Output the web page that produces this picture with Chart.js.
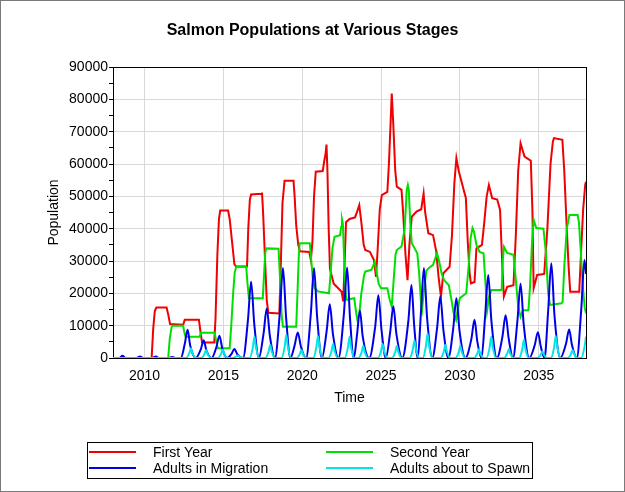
<!DOCTYPE html>
<html>
<head>
<meta charset="utf-8">
<title>Salmon Populations at Various Stages</title>
<script src="https://cdn.jsdelivr.net/npm/chart.js@4.4.1/dist/chart.umd.min.js"></script>
<style>
  html, body { margin: 0; padding: 0; background: #fff; }
  canvas { display: block; }
</style>
</head>
<body>
<canvas id="salmonChart" width="625" height="492"></canvas>
<script>
const FONT = "'Liberation Sans', Arial, sans-serif";
const chartTitle = 'Salmon Populations at Various Stages';

// axis ticks
const yearTicks = [2010, 2015, 2020, 2025, 2030, 2035];
const populationTicks = [0, 5000, 10000, 15000, 20000, 25000, 30000, 35000, 40000, 45000,
  50000, 55000, 60000, 65000, 70000, 75000, 80000, 85000, 90000];

const seriesNames = ['First Year', 'Second Year', 'Adults in Migration', 'Adults about to Spawn'];
const seriesColors = ['#f00000', '#00e000', '#0000e6', '#00e6e6'];

// [year, population]
const firstYear = [
  [2008, 0], [2010.45, 0], [2010.55, 9000], [2010.65, 14500], [2010.75, 15600], [2011.4, 15600],
  [2011.5, 13500], [2011.62, 10500], [2012.45, 10300], [2012.55, 11800], [2013.45, 11800], [2013.55, 8000],
  [2013.65, 4800], [2014.42, 4800], [2014.5, 12000], [2014.62, 32000], [2014.72, 43000], [2014.8, 45600],
  [2015.3, 45600], [2015.4, 43000], [2015.55, 36000], [2015.7, 29000], [2015.8, 28300], [2016.5, 28300],
  [2016.58, 40000], [2016.68, 49000], [2016.76, 50600], [2017.4, 50800], [2017.45, 51200], [2017.52, 45000],
  [2017.62, 33000], [2017.75, 18000], [2017.85, 14000], [2018.55, 13800], [2018.65, 30000], [2018.75, 48000],
  [2018.88, 54800], [2019.45, 54800], [2019.52, 50000], [2019.62, 41000], [2019.75, 35000], [2019.85, 33000],
  [2020.45, 32800], [2020.55, 30300], [2020.65, 36000], [2020.75, 50000], [2020.86, 57600], [2021.3, 57800],
  [2021.4, 61000], [2021.48, 63000], [2021.54, 66000], [2021.6, 58000], [2021.68, 40000], [2021.76, 27500],
  [2022.0, 23000], [2022.3, 21500], [2022.5, 20500], [2022.6, 17500], [2022.68, 28000], [2022.78, 42000],
  [2023.0, 43000], [2023.35, 43500], [2023.5, 45500], [2023.62, 47300], [2023.75, 42000], [2023.9, 35000],
  [2024.0, 33400], [2024.3, 32800], [2024.55, 30300], [2024.68, 25100], [2024.78, 33000], [2024.92, 46000],
  [2025.05, 50400], [2025.4, 51400], [2025.5, 60000], [2025.6, 72000], [2025.68, 81800], [2025.78, 72000],
  [2025.9, 58000], [2026.0, 53000], [2026.3, 52000], [2026.4, 45000], [2026.55, 32000], [2026.68, 24100],
  [2026.8, 35000], [2026.95, 43700], [2027.25, 45300], [2027.55, 46000], [2027.7, 50900], [2027.8, 45000],
  [2028.0, 38600], [2028.3, 38000], [2028.5, 33000], [2028.65, 25000], [2028.8, 19000], [2028.95, 26200],
  [2029.35, 28200], [2029.5, 38000], [2029.65, 54000], [2029.78, 61800], [2029.92, 58000], [2030.24, 52000],
  [2030.38, 49500], [2030.5, 36000], [2030.62, 26200], [2030.7, 23100], [2030.93, 23500], [2031.05, 33900],
  [2031.4, 35000], [2031.55, 42000], [2031.7, 50000], [2031.84, 53500], [2032.05, 49400], [2032.37, 49000],
  [2032.55, 45800], [2032.68, 30000], [2032.79, 19000], [2033.0, 22000], [2033.4, 22500], [2033.55, 38000],
  [2033.7, 58000], [2033.85, 66400], [2034.1, 62300], [2034.5, 61000], [2034.6, 45800], [2034.68, 21600],
  [2034.9, 25700], [2035.35, 26000], [2035.55, 40000], [2035.75, 60000], [2035.9, 67000], [2035.97, 68000],
  [2036.5, 67500], [2036.62, 58000], [2036.78, 40000], [2036.9, 28000], [2037.0, 20500], [2037.57, 20500],
  [2037.68, 32000], [2037.82, 46000], [2037.95, 53500], [2038, 54500]
];

const secondYear = [
  [2008, 0], [2011.5, 0], [2011.6, 6000], [2011.72, 9600], [2011.78, 10000], [2012.45, 10000], [2012.52, 8000],
  [2012.6, 6600], [2013.5, 6600], [2013.58, 7800], [2014.45, 7800], [2014.55, 5000], [2014.65, 3000],
  [2015.4, 3000], [2015.5, 10000], [2015.62, 20000], [2015.72, 26500], [2015.82, 28200], [2016.45, 28200],
  [2016.53, 23000], [2016.62, 18500], [2017.5, 18500], [2017.58, 26000], [2017.66, 32500], [2017.72, 33900],
  [2018.5, 33800], [2018.6, 24000], [2018.7, 13000], [2018.78, 9700], [2019.62, 9700], [2019.7, 20000],
  [2019.78, 31000], [2019.84, 35500], [2020.48, 35500], [2020.58, 30000], [2020.68, 24000], [2020.8, 21600],
  [2021.0, 20600], [2021.7, 20000], [2021.8, 26000], [2021.92, 34000], [2022.05, 37500], [2022.4, 38000],
  [2022.47, 40500], [2022.52, 42900], [2022.58, 41500], [2022.65, 32000], [2022.72, 22000], [2022.8, 18000],
  [2023.3, 18500], [2023.42, 14000], [2023.5, 11800], [2023.62, 13500], [2023.75, 20000], [2023.92, 25500],
  [2024.0, 26700], [2024.4, 27300], [2024.6, 29800], [2024.72, 26500], [2024.85, 23000], [2025.0, 21600],
  [2025.4, 21600], [2025.55, 18000], [2025.68, 15900], [2025.8, 24000], [2025.92, 32000], [2026.0, 33400],
  [2026.3, 34500], [2026.5, 40000], [2026.63, 52000], [2026.7, 53500], [2026.76, 52000], [2026.85, 42000],
  [2026.95, 35500], [2027.3, 32400], [2027.42, 26000], [2027.55, 16000], [2027.6, 14800], [2027.72, 21000],
  [2027.88, 27000], [2028.0, 27700], [2028.3, 28800], [2028.55, 32400], [2028.68, 30000], [2028.85, 26000],
  [2029.0, 24100], [2029.3, 22500], [2029.45, 18500], [2029.6, 14000], [2029.76, 11800], [2029.88, 15500],
  [2030.0, 18500], [2030.4, 20000], [2030.55, 28000], [2030.68, 37000], [2030.8, 40200], [2030.9, 39000],
  [2031.05, 35000], [2031.25, 32800], [2031.5, 32400], [2031.6, 25000], [2031.73, 14800], [2031.85, 19000],
  [2032.0, 21000], [2032.65, 21000], [2032.72, 30000], [2032.8, 34400], [2033.0, 32500], [2033.4, 31900],
  [2033.55, 24000], [2033.7, 16000], [2033.85, 12800], [2034.0, 14800], [2034.35, 14800], [2034.45, 22000],
  [2034.58, 36000], [2034.68, 42700], [2034.85, 40200], [2035.3, 40000], [2035.45, 33000], [2035.6, 20000],
  [2035.72, 16400], [2036.45, 16900], [2036.52, 17500], [2036.62, 28000], [2036.78, 40000], [2036.95, 44200],
  [2037.47, 44200], [2037.55, 42000], [2037.68, 32000], [2037.8, 22000], [2037.92, 15500], [2038, 13800]
];

const adultsMigration = [
  [2008, 0], [2008.4, 0], [2008.6, 700], [2008.8, 0], [2009.5, 0], [2009.72, 500], [2009.92, 0],
  [2010.5, 0], [2010.72, 500], [2010.92, 0], [2011.55, 0], [2011.75, 300], [2011.95, 0],
  [2012.3, 0], [2012.55, 4300], [2012.73, 8700], [2012.9, 3800], [2013.25, 0],
  [2013.57, 2700], [2013.75, 5500], [2013.92, 2400], [2014.25, 0],
  [2014.56, 3400], [2014.75, 6900], [2014.93, 3000], [2015.22, 0],
  [2015.52, 1300], [2015.7, 2800], [2015.88, 1200], [2016.25, 0],
  [2016.56, 11800], [2016.76, 23600], [2016.96, 10500], [2017.25, 0],
  [2017.55, 7600], [2017.75, 15300], [2017.95, 6800], [2018.27, 0],
  [2018.58, 13900], [2018.78, 27800], [2018.98, 12500], [2019.25, 0],
  [2019.52, 3900], [2019.72, 7900], [2019.92, 3500], [2020.25, 0],
  [2020.55, 13900], [2020.75, 27800], [2020.95, 12500], [2021.25, 0],
  [2021.55, 8300], [2021.75, 16600], [2021.95, 7400], [2022.3, 0],
  [2022.65, 14000], [2022.85, 28000], [2023.03, 12500], [2023.27, 0],
  [2023.48, 7300], [2023.66, 14700], [2023.84, 6600], [2024.25, 0],
  [2024.63, 9700], [2024.83, 19400], [2025.03, 8700], [2025.3, 0],
  [2025.58, 8000], [2025.78, 16000], [2025.98, 7200], [2026.35, 0],
  [2026.73, 11300], [2026.93, 22600], [2027.1, 10200], [2027.33, 0],
  [2027.53, 13900], [2027.72, 27800], [2027.92, 12500], [2028.25, 0],
  [2028.56, 9500], [2028.76, 19000], [2028.96, 8500], [2029.27, 0],
  [2029.58, 9200], [2029.78, 18500], [2029.98, 8300], [2030.35, 0],
  [2030.73, 5900], [2030.93, 11800], [2031.1, 5300], [2031.37, 0],
  [2031.6, 12800], [2031.8, 25700], [2032.0, 11500], [2032.35, 0],
  [2032.7, 6600], [2032.9, 13200], [2033.1, 5900], [2033.37, 0],
  [2033.65, 11500], [2033.85, 23000], [2034.05, 10300], [2034.4, 0],
  [2034.75, 4000], [2034.95, 8000], [2035.13, 3600], [2035.37, 0],
  [2035.6, 14600], [2035.8, 29300], [2036.0, 13200], [2036.37, 0],
  [2036.73, 4400], [2036.93, 8800], [2037.11, 4000], [2037.42, 0],
  [2037.7, 15100], [2037.9, 30300], [2038, 26000]
];

const adultsSpawn = [
  [2008, 0], [2012.64, 0], [2012.84, 1500], [2012.94, 3000], [2013.04, 1500], [2013.24, 0],
  [2013.6, 0], [2013.8, 1250], [2013.9, 2500], [2014.0, 1250], [2014.2, 0],
  [2014.66, 0], [2014.86, 1300], [2014.96, 2600], [2015.06, 1300], [2015.26, 0],
  [2015.61, 0], [2015.81, 400], [2015.91, 800], [2016.01, 400], [2016.21, 0],
  [2016.67, 0], [2016.87, 3300], [2016.97, 6600], [2017.07, 3300], [2017.27, 0],
  [2017.67, 0], [2017.87, 2000], [2017.97, 4000], [2018.07, 2000], [2018.27, 0],
  [2018.69, 0], [2018.89, 3500], [2018.99, 7100], [2019.09, 3500], [2019.29, 0],
  [2019.65, 0], [2019.85, 1250], [2019.95, 2500], [2020.05, 1250], [2020.25, 0],
  [2020.7, 0], [2020.9, 3400], [2021.0, 6800], [2021.1, 3400], [2021.3, 0],
  [2021.66, 0], [2021.86, 2100], [2021.96, 4300], [2022.06, 2100], [2022.26, 0],
  [2022.7, 0], [2022.9, 3300], [2023.0, 6600], [2023.1, 3300], [2023.3, 0],
  [2023.57, 0], [2023.77, 1800], [2023.87, 3700], [2023.97, 1800], [2024.17, 0],
  [2024.8, 0], [2025.0, 2100], [2025.1, 4300], [2025.2, 2100], [2025.4, 0],
  [2025.7, 0], [2025.9, 1800], [2026.0, 3700], [2026.1, 1800], [2026.3, 0],
  [2026.82, 0], [2027.02, 2700], [2027.12, 5400], [2027.22, 2700], [2027.42, 0],
  [2027.65, 0], [2027.85, 3800], [2027.95, 7600], [2028.05, 3800], [2028.25, 0],
  [2028.78, 0], [2028.98, 2000], [2029.08, 4000], [2029.18, 2000], [2029.38, 0],
  [2029.73, 0], [2029.93, 1800], [2030.03, 3700], [2030.13, 1800], [2030.33, 0],
  [2030.9, 0], [2031.1, 1300], [2031.2, 2700], [2031.3, 1300], [2031.5, 0],
  [2031.69, 0], [2031.89, 3300], [2031.99, 6600], [2032.09, 3300], [2032.29, 0],
  [2032.8, 0], [2033.0, 1300], [2033.1, 2700], [2033.2, 1300], [2033.4, 0],
  [2033.76, 0], [2033.96, 2800], [2034.06, 5600], [2034.16, 2800], [2034.36, 0],
  [2034.93, 0], [2035.13, 1000], [2035.23, 2000], [2035.33, 1000], [2035.53, 0],
  [2035.78, 0], [2035.98, 3400], [2036.08, 6800], [2036.18, 3400], [2036.38, 0],
  [2036.85, 0], [2037.05, 1250], [2037.15, 2500], [2037.25, 1250], [2037.45, 0],
  [2037.7, 0], [2037.9, 3300], [2038, 6600]
];

const toPoints = rows => rows.map(([x, y]) => ({ x, y }));

// white page, grey outer frame, title, black plot frame and the boxed legend
const chartFrame = {
  id: 'chartFrame',
  beforeDraw(chart) {
    const ctx = chart.ctx;
    ctx.save();
    ctx.fillStyle = '#fff';
    ctx.fillRect(0, 0, chart.width, chart.height);
    ctx.strokeStyle = '#7a7a7a';
    ctx.lineWidth = 1;
    ctx.strokeRect(0.5, 0.5, chart.width - 1, chart.height - 1);
    // title centred on the whole page
    ctx.fillStyle = '#000';
    ctx.font = 'bold 16px ' + FONT;
    ctx.textAlign = 'center';
    ctx.textBaseline = 'middle';
    ctx.fillText(chartTitle, chart.width / 2, 31);
    ctx.restore();
  },
  beforeDatasetsDraw(chart) {
    const { ctx, chartArea: a } = chart;
    ctx.save();
    ctx.strokeStyle = '#000';
    ctx.lineWidth = 1;
    ctx.strokeRect(a.left + 0.5, a.top + 0.5, a.right - a.left, a.bottom - a.top);
    ctx.restore();
  },
  afterDraw(chart) {
    const ctx = chart.ctx;
    ctx.save();
    ctx.strokeStyle = '#000';
    ctx.lineWidth = 1;
    ctx.strokeRect(87.5, 442.5, 445, 36);
    ctx.font = '14px ' + FONT;
    ctx.textBaseline = 'middle';
    ctx.fillStyle = '#000';
    seriesNames.forEach((name, i) => {
      const x = i % 2 === 0 ? 89 : 326;
      const y = i < 2 ? 452 : 468;
      ctx.strokeStyle = seriesColors[i];
      ctx.lineWidth = 2;
      ctx.beginPath();
      ctx.moveTo(x, y);
      ctx.lineTo(x + 47, y);
      ctx.stroke();
      ctx.fillText(name, x + 64, y + 1);
    });
    ctx.restore();
  }
};

new Chart(document.getElementById('salmonChart'), {
  type: 'line',
  data: {
    datasets: [
      { label: seriesNames[0], data: toPoints(firstYear), borderColor: seriesColors[0], order: 4 },
      { label: seriesNames[1], data: toPoints(secondYear), borderColor: seriesColors[1], order: 3 },
      { label: seriesNames[2], data: toPoints(adultsMigration), borderColor: seriesColors[2], order: 2,
        cubicInterpolationMode: 'monotone' },
      { label: seriesNames[3], data: toPoints(adultsSpawn), borderColor: seriesColors[3], order: 1,
        cubicInterpolationMode: 'monotone' }
    ]
  },
  options: {
    responsive: false,
    animation: false,
    events: [],
    elements: {
      point: { radius: 0 },
      line: { borderWidth: 2, fill: false, tension: 0 }
    },
    layout: { padding: { left: 0, right: 39, top: 67, bottom: 74 } },
    plugins: {
      legend: { display: false },
      tooltip: { enabled: false },
      title: { display: false }
    },
    scales: {
      x: {
        type: 'linear',
        min: 2008,
        max: 2038,
        afterBuildTicks: s => { s.ticks = yearTicks.map(v => ({ value: v })); },
        afterFit: s => { s.height = 60; },
        grid: { color: '#d9d9d9', drawTicks: false },
        border: { display: false },
        ticks: {
          color: '#000', font: { family: FONT, size: 14 }, padding: 10,
          maxRotation: 0, autoSkip: false, callback: v => String(v)
        },
        title: {
          display: true, text: 'Time', color: '#000',
          font: { family: FONT, size: 14 }, padding: { top: 0, bottom: 11.6 }
        }
      },
      y: {
        min: 0,
        max: 90000,
        afterBuildTicks: s => { s.ticks = populationTicks.map(v => ({ value: v })); },
        afterFit: s => { s.width = 113; },
        grid: {
          color: c => (c.tick && c.tick.value % 10000 === 0) ? '#d9d9d9' : 'rgba(0,0,0,0)',
          tickColor: '#000',
          tickLength: 4
        },
        border: { display: false },
        ticks: {
          color: '#000', font: { family: FONT, size: 14 }, padding: 1, autoSkip: false,
          callback: v => (v % 10000 === 0 ? String(v) : '')
        },
        title: {
          display: true, text: 'Population', color: '#000',
          font: { family: FONT, size: 14 }, padding: { top: 45.6, bottom: 0 }
        }
      }
    }
  },
  plugins: [chartFrame]
});
</script>
</body>
</html>
